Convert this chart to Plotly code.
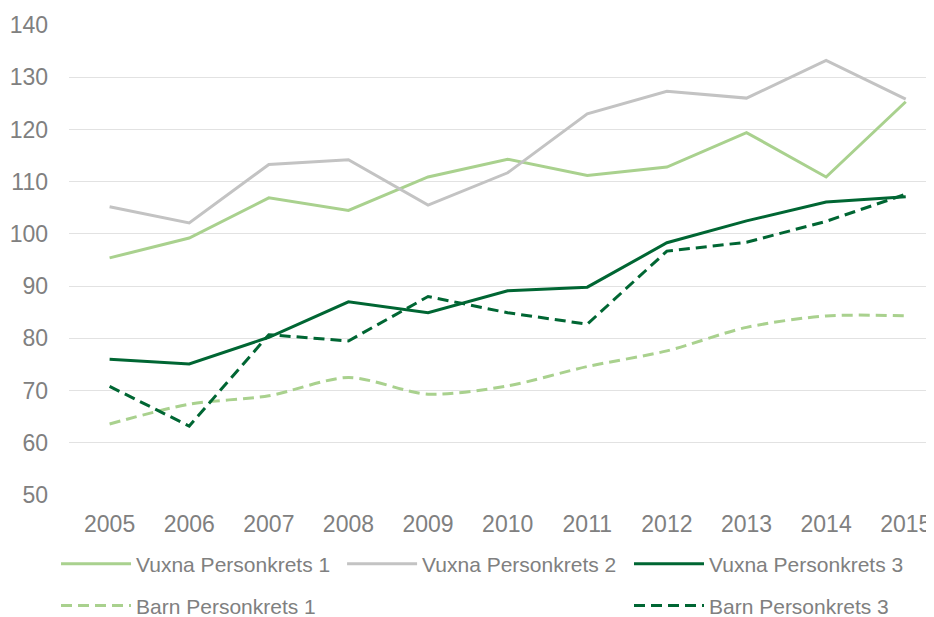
import plotly.graph_objects as go

years = [2005, 2006, 2007, 2008, 2009, 2010, 2011, 2012, 2013, 2014, 2015]
vuxna_1 = [95.4, 99.2, 106.9, 104.5, 110.9, 114.3, 111.2, 112.8, 119.4, 110.9, 125.3]
vuxna_2 = [105.2, 102.1, 113.3, 114.2, 105.5, 111.7, 123.0, 127.3, 126.0, 133.2, 125.8]
vuxna_3 = [76.0, 75.1, 80.2, 87.0, 84.9, 89.1, 89.8, 98.3, 102.5, 106.1, 107.1]
barn_1 = [63.6, 67.4, 69.0, 72.5, 69.3, 70.9, 74.6, 77.6, 82.1, 84.3, 84.3]
barn_3 = [70.8, 63.2, 80.7, 79.5, 88.0, 84.9, 82.7, 96.7, 98.4, 102.4, 107.6]
y_ticks = [50, 60, 70, 80, 90, 100, 110, 120, 130, 140]

LIGHT = "#a9d18e"
GRAY = "#c3c3c3"
DARK = "#006633"
FONT = "Liberation Sans, Arial, sans-serif"
TXT = "#808080"

fig = go.Figure()
fig.add_trace(go.Scatter(x=years, y=vuxna_1, name="Vuxna Personkrets 1", mode="lines",
                         line=dict(color=LIGHT, width=3), legend="legend"))
fig.add_trace(go.Scatter(x=years, y=vuxna_2, name="Vuxna Personkrets 2", mode="lines",
                         line=dict(color=GRAY, width=3), legend="legend2"))
fig.add_trace(go.Scatter(x=years, y=vuxna_3, name="Vuxna Personkrets 3", mode="lines",
                         line=dict(color=DARK, width=3), legend="legend3"))
fig.add_trace(go.Scatter(x=years, y=barn_1, name="Barn Personkrets 1", mode="lines",
                         line=dict(color=LIGHT, width=3, dash="11px,6px", shape="spline", smoothing=0.8),
                         legend="legend4"))
fig.add_trace(go.Scatter(x=years, y=barn_3, name="Barn Personkrets 3", mode="lines",
                         line=dict(color=DARK, width=3, dash="11px,6px"), legend="legend5"))

leg_common = dict(orientation="h", font=dict(family=FONT, size=21, color=TXT),
                  bgcolor="rgba(0,0,0,0)", itemwidth=70, yanchor="middle", xanchor="left",
                  itemclick=False)

col1, col2, col3 = -0.015, 0.3157, 0.6474
row1, row2 = -0.147, -0.236

# the page body adds an 8px offset, so the figure is 8px smaller on each side
fig.update_layout(
    width=926, height=609,
    margin=dict(l=61, r=0, t=17, b=122, autoexpand=False),
    paper_bgcolor="white", plot_bgcolor="white",
    font=dict(family=FONT, color=TXT),
    xaxis=dict(range=[2004.49, 2015.355], tickmode="array", tickvals=years,
               ticktext=[str(y) for y in years], showgrid=False, zeroline=False,
               showline=False, tickfont=dict(size=23, color=TXT), ticklabelstandoff=13,
               automargin=False),
    yaxis=dict(range=[50, 140], tickmode="array", tickvals=y_ticks,
               showgrid=True, gridcolor="#e2e2e2", gridwidth=1.3, zeroline=False,
               showline=False, tickfont=dict(size=23, color=TXT), ticklabelstandoff=20,
               automargin=False),
    legend=dict(x=col1, y=row1, **leg_common),
    legend2=dict(x=col2, y=row1, **leg_common),
    legend3=dict(x=col3, y=row1, **leg_common),
    legend4=dict(x=col1, y=row2, **leg_common),
    legend5=dict(x=col3, y=row2, **leg_common),
    showlegend=True,
)

fig.write_html("out.html")
